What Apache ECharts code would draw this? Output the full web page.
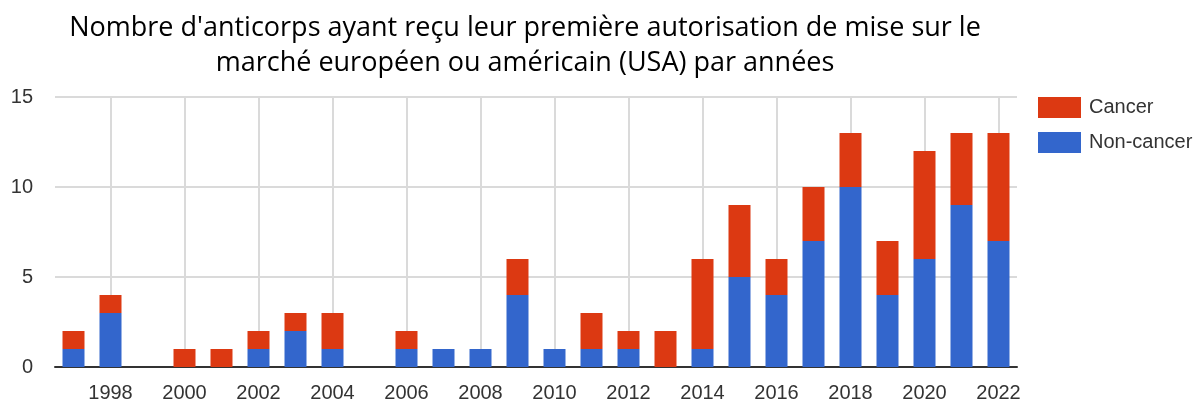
<!DOCTYPE html>
<html>
<head>
<meta charset="utf-8">
<script src="https://cdn.jsdelivr.net/npm/echarts@6/dist/echarts.min.js"></script>
<style>
  html, body { margin: 0; padding: 0; background: #fff; }
  #chart { width: 1200px; height: 403px; }
</style>
</head>
<body>
<div id="chart"></div>
<script>
// years 1997 -> 2022
const years = ['1997','1998','1999','2000','2001','2002','2003','2004','2005','2006','2007','2008','2009',
  '2010','2011','2012','2013','2014','2015','2016','2017','2018','2019','2020','2021','2022']
const nonCancer = [1,3,0,0,0,1,2,1,0,1,1,1,4,1,1,1,0,1,5,4,7,10,4,6,9,7]
const cancer    = [1,1,0,1,1,1,1,2,0,1,0,0,2,0,2,1,2,5,4,2,3,3,3,6,4,6]
const yTicks = [0, 5, 10, 15]

const red = '#dc3912'
const blue = '#3366cc'
const everyOther = (idx) => idx % 2 === 1

let myChart = echarts.init(document.getElementById('chart'))
let option = {
  animation: false,
  title: {
    text: "Nombre d'anticorps ayant reçu leur première autorisation de mise sur le\nmarché européen ou américain (USA) par années",
    left: 520,
    textAlign: 'center',
    top: 6,
    textStyle: {
      fontFamily: 'Open Sans',
      fontWeight: 'normal',
      fontSize: 27,
      lineHeight: 35,
      color: '#000'
    }
  },
  legend: {
    data: ['Cancer', 'Non-cancer'],
    orient: 'vertical',
    left: 1038,
    top: 97,
    padding: 0,
    itemWidth: 43,
    itemHeight: 21,
    itemGap: 14,
    icon: 'rect',
    textStyle: { fontFamily: 'Liberation Sans', fontSize: 20, color: '#333', padding: [0, 0, 0, 3] }
  },
  grid: { left: 55, right: 183, top: 97, bottom: 36 },
  xAxis: {
    type: 'category',
    data: years,
    axisLine: { show: true, lineStyle: { color: '#333', width: 2 } },
    axisTick: { show: false },
    axisLabel: {
      interval: everyOther,
      fontFamily: 'Liberation Sans',
      fontSize: 20,
      color: '#333',
      margin: 16
    },
    splitLine: {
      show: true,
      interval: everyOther,
      alignWithLabel: true,
      lineStyle: { color: '#dadada', width: 2 }
    }
  },
  yAxis: {
    type: 'value',
    min: yTicks[0],
    max: yTicks[yTicks.length - 1],
    interval: 5,
    axisLine: { show: false },
    axisTick: { show: false },
    axisLabel: { fontFamily: 'Liberation Sans', fontSize: 20, color: '#333', margin: 22 },
    splitLine: { lineStyle: { color: '#dadada', width: 2 } }
  },
  series: [
    {
      name: 'Non-cancer',
      type: 'bar',
      stack: 'total',
      barWidth: 22,
      data: nonCancer,
      itemStyle: { color: blue }
    },
    {
      name: 'Cancer',
      type: 'bar',
      stack: 'total',
      barWidth: 22,
      data: cancer,
      itemStyle: { color: red }
    }
  ]
}
myChart.setOption(option)
window.addEventListener('resize', function() {
  myChart.resize()
})
</script>
</body>
</html>
